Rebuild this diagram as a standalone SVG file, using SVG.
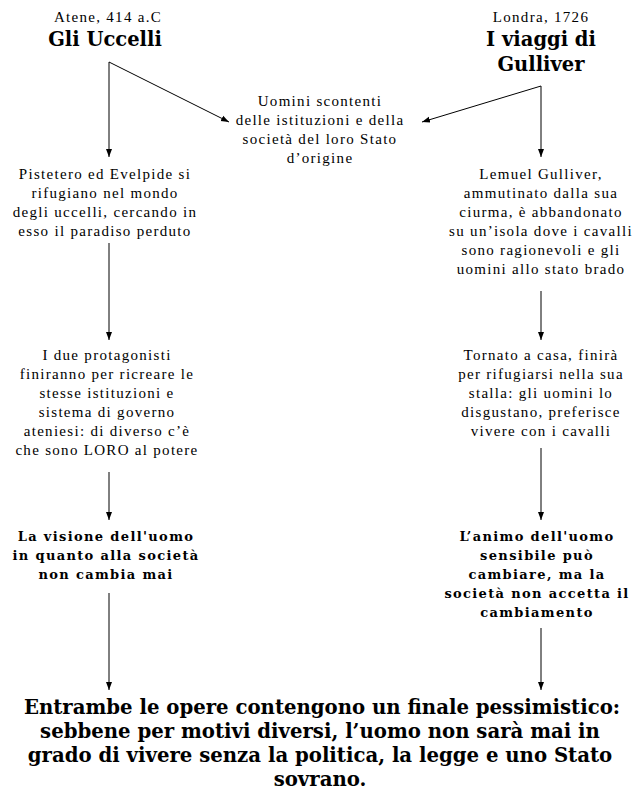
<svg xmlns="http://www.w3.org/2000/svg" width="640" height="800" viewBox="0 0 640 800">
<style>
text{fill:#000;text-anchor:middle}
.n{font-family:"Liberation Serif","Times New Roman",serif;font-size:15px;letter-spacing:1.3px}
.t{font-family:"DejaVu Serif","Liberation Serif",serif;font-size:19.5px;font-weight:bold}
.b{font-family:"DejaVu Serif","Liberation Serif",serif;font-size:13px;font-weight:bold;letter-spacing:1.35px}
.f{font-family:"DejaVu Serif","Liberation Serif",serif;font-size:19.7px;font-weight:bold}
.c{stroke:#000;stroke-width:1;fill:none}
</style>
<defs>
<marker id="ah" viewBox="0 0 8 8" refX="8" refY="4" markerWidth="8" markerHeight="8" markerUnits="userSpaceOnUse" orient="auto">
<path d="M0,1 L8,4 L0,7 Z" fill="#000"/>
</marker>
</defs>
<rect width="640" height="800" fill="#fff"/>
<g id="title-left">
<text class="n" x="108" y="22">Atene, 414 a.C</text>
<text class="t" x="105" y="46">Gli Uccelli</text>
</g>
<g id="title-right">
<text class="n" x="541" y="22">Londra, 1726</text>
<text class="t" x="541" y="46">I viaggi di</text>
<text class="t" x="541" y="71">Gulliver</text>
</g>
<g id="center">
<text class="n" x="320" y="106">Uomini scontenti</text>
<text class="n" x="320" y="125">delle istituzioni e della</text>
<text class="n" x="320" y="144">società del loro Stato</text>
<text class="n" x="320" y="163">d’origine</text>
</g>
<g id="left1">
<text class="n" x="105" y="179">Pistetero ed Evelpide si</text>
<text class="n" x="105" y="198">rifugiano nel mondo</text>
<text class="n" x="105" y="217">degli uccelli, cercando in</text>
<text class="n" x="105" y="236">esso il paradiso perduto</text>
</g>
<g id="left2">
<text class="n" x="107" y="360">I due protagonisti</text>
<text class="n" x="107" y="379">finiranno per ricreare le</text>
<text class="n" x="107" y="398">stesse istituzioni e</text>
<text class="n" x="107" y="417">sistema di governo</text>
<text class="n" x="107" y="436">ateniesi: di diverso c’è</text>
<text class="n" x="107" y="455">che sono LORO al potere</text>
</g>
<g id="left3">
<text class="b" x="106" y="541">La visione dell'uomo</text>
<text class="b" x="106" y="560">in quanto alla società</text>
<text class="b" x="106" y="579">non cambia mai</text>
</g>
<g id="right1">
<text class="n" x="541" y="179">Lemuel Gulliver,</text>
<text class="n" x="541" y="198">ammutinato dalla sua</text>
<text class="n" x="541" y="217">ciurma, è abbandonato</text>
<text class="n" x="541" y="236">su un’isola dove i cavalli</text>
<text class="n" x="541" y="255">sono ragionevoli e gli</text>
<text class="n" x="541" y="274">uomini allo stato brado</text>
</g>
<g id="right2">
<text class="n" x="541" y="360">Tornato a casa, finirà</text>
<text class="n" x="541" y="379">per rifugiarsi nella sua</text>
<text class="n" x="541" y="398">stalla: gli uomini lo</text>
<text class="n" x="541" y="417">disgustano, preferisce</text>
<text class="n" x="541" y="436">vivere con i cavalli</text>
</g>
<g id="right3">
<text class="b" x="537" y="541">L’animo dell'uomo</text>
<text class="b" x="537" y="560">sensibile può</text>
<text class="b" x="537" y="579">cambiare, ma la</text>
<text class="b" x="537" y="598">società non accetta il</text>
<text class="b" x="537" y="617">cambiamento</text>
</g>
<g id="conclusion">
<text class="f" x="322" y="714">Entrambe le opere contengono un finale pessimistico:</text>
<text class="f" x="320" y="738">sebbene per motivi diversi, l’uomo non sarà mai in</text>
<text class="f" x="320" y="762">grado di vivere senza la politica, la legge e uno Stato</text>
<text class="f" x="320" y="786">sovrano.</text>
</g>
<g id="connectors" class="c">
<line x1="109" y1="62" x2="109" y2="157" marker-end="url(#ah)"/>
<line x1="109" y1="62" x2="229" y2="122" marker-end="url(#ah)"/>
<line x1="541" y1="86" x2="541" y2="157" marker-end="url(#ah)"/>
<line x1="541" y1="86" x2="422" y2="122" marker-end="url(#ah)"/>
<line x1="109" y1="243" x2="109" y2="340" marker-end="url(#ah)"/>
<line x1="109" y1="472" x2="109" y2="520" marker-end="url(#ah)"/>
<line x1="109" y1="593" x2="109" y2="690" marker-end="url(#ah)"/>
<line x1="541" y1="291" x2="541" y2="340" marker-end="url(#ah)"/>
<line x1="541" y1="448" x2="541" y2="520" marker-end="url(#ah)"/>
<line x1="541" y1="628" x2="541" y2="690" marker-end="url(#ah)"/>
</g>
</svg>
